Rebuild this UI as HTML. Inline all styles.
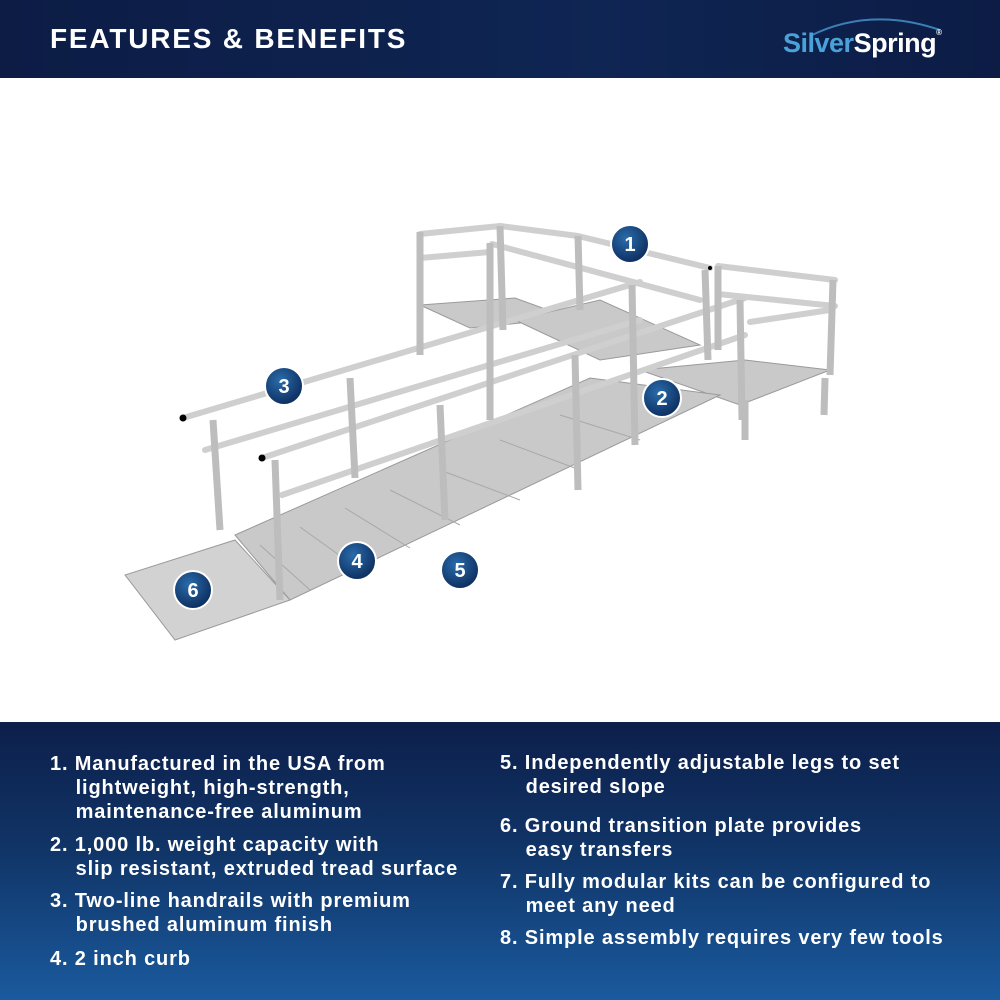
<!DOCTYPE html>
<html><head><meta charset="utf-8"><style>
html,body{margin:0;padding:0;width:1000px;height:1000px;overflow:hidden;background:#fff;font-family:"Liberation Sans",sans-serif}
#hdr{position:absolute;left:0;top:0;width:1000px;height:78px;background:linear-gradient(90deg,#0c1c45,#0f2553 60%,#0c1c45)}
#hdr h1{position:absolute;left:50px;top:23px;margin:0;color:#fff;font-size:28px;font-weight:bold;letter-spacing:1.8px}
#logo{position:absolute;left:783px;top:28px;font-size:27px;font-weight:bold;letter-spacing:-0.5px}
#bot{position:absolute;left:0;top:722px;width:1000px;height:278px;background:linear-gradient(180deg,#0d1f4b 0%,#103466 45%,#1a5a9e 100%)}
.t{position:absolute;color:#fff;font-weight:bold;font-size:20px;letter-spacing:0.85px;line-height:24px;white-space:nowrap}
</style></head><body>
<div id="hdr"><h1>FEATURES &amp; BENEFITS</h1>
<svg style="position:absolute;left:800px;top:10px" width="150" height="30"><path d="M10 26 Q70 -4 140 20" stroke="#3c7fb6" stroke-width="2" fill="none"/></svg>
<div id="logo"><span style="color:#4aa3d8">Silver</span><span style="color:#fff">Spring</span><span style="color:#fff;font-size:8px;vertical-align:top">®</span></div></div>

<svg style="position:absolute;left:0;top:78px" width="1000" height="644" viewBox="0 78 1000 644">
<defs><radialGradient id="b" cx="40%" cy="35%" r="70%"><stop offset="0" stop-color="#2a6cab"/><stop offset="1" stop-color="#0b2a5a"/></radialGradient></defs>
<rect x="0" y="78" width="1000" height="644" fill="#fff"/>
<g fill="#c9c9c9" stroke="#9a9a9a" stroke-width="1">
<polygon points="420,305 515,298 570,318 470,328"/>
<polygon points="515,320 600,300 700,345 600,360"/>
<polygon points="640,370 745,360 830,370 740,405"/>
<polygon points="235,535 590,378 720,395 290,600"/>
<polygon points="125,575 235,540 290,600 175,640" fill="#d2d2d2"/>
</g>
<g stroke="#a8a8a8" stroke-width="1">
<line x1="260" y1="545" x2="310" y2="590"/><line x1="300" y1="527" x2="360" y2="570"/><line x1="345" y1="508" x2="410" y2="548"/><line x1="390" y1="490" x2="460" y2="525"/><line x1="440" y1="470" x2="520" y2="500"/><line x1="500" y1="440" x2="580" y2="470"/><line x1="560" y1="415" x2="640" y2="440"/>
</g>
<g stroke="#cfcfcf" stroke-width="6" stroke-linecap="round" fill="none">
<line x1="183" y1="418" x2="640" y2="282"/><line x1="205" y1="450" x2="640" y2="320"/>
<line x1="262" y1="458" x2="745" y2="298"/><line x1="282" y1="495" x2="745" y2="335"/>
<line x1="420" y1="234" x2="500" y2="226"/><line x1="500" y1="226" x2="578" y2="236"/><line x1="578" y1="236" x2="710" y2="268"/>
<line x1="492" y1="244" x2="700" y2="300"/><line x1="420" y1="258" x2="490" y2="252"/>
<line x1="718" y1="266" x2="835" y2="280"/><line x1="718" y1="294" x2="835" y2="306"/><line x1="750" y1="322" x2="830" y2="310"/>
</g>
<g stroke="#bdbdbd" stroke-width="7" fill="none">
<line x1="213" y1="420" x2="220" y2="530"/><line x1="350" y1="378" x2="355" y2="478"/><line x1="440" y1="405" x2="445" y2="520"/>
<line x1="275" y1="460" x2="280" y2="600"/><line x1="490" y1="243" x2="490" y2="420"/><line x1="575" y1="355" x2="578" y2="490"/>
<line x1="420" y1="232" x2="420" y2="355"/><line x1="500" y1="226" x2="503" y2="330"/><line x1="578" y1="236" x2="580" y2="310"/>
<line x1="632" y1="285" x2="635" y2="445"/><line x1="705" y1="270" x2="708" y2="360"/><line x1="740" y1="300" x2="742" y2="420"/>
<line x1="718" y1="266" x2="718" y2="350"/><line x1="833" y1="280" x2="830" y2="375"/><line x1="745" y1="400" x2="745" y2="440"/><line x1="825" y1="378" x2="824" y2="415"/>
</g>
<g fill="#000"><circle cx="183" cy="418" r="3.5"/><circle cx="262" cy="458" r="3.5"/><circle cx="710" cy="268" r="2"/></g>
<g stroke="#fff" stroke-width="2" fill="url(#b)">
<circle cx="630" cy="244" r="19"/><circle cx="662" cy="398" r="19"/><circle cx="284" cy="386" r="19"/><circle cx="357" cy="561" r="19"/><circle cx="460" cy="570" r="19"/><circle cx="193" cy="590" r="19"/>
</g>
<g fill="#fff" font-family="Liberation Sans,sans-serif" font-weight="bold" font-size="20" text-anchor="middle">
<text x="630" y="251">1</text><text x="662" y="405">2</text><text x="284" y="393">3</text><text x="357" y="568">4</text><text x="460" y="577">5</text><text x="193" y="597">6</text>
</g>
</svg>

<div id="bot">
<div class="t" style="left:50px;top:30px">1. Manufactured in the USA from<br>&nbsp;&nbsp;&nbsp;&nbsp;lightweight, high-strength,<br>&nbsp;&nbsp;&nbsp;&nbsp;maintenance-free aluminum</div>
<div class="t" style="left:50px;top:111px">2. 1,000 lb. weight capacity with<br>&nbsp;&nbsp;&nbsp;&nbsp;slip resistant, extruded tread surface</div>
<div class="t" style="left:50px;top:167px">3. Two-line handrails with premium<br>&nbsp;&nbsp;&nbsp;&nbsp;brushed aluminum finish</div>
<div class="t" style="left:50px;top:225px">4. 2 inch curb</div>
<div class="t" style="left:500px;top:29px">5. Independently adjustable legs to set<br>&nbsp;&nbsp;&nbsp;&nbsp;desired slope</div>
<div class="t" style="left:500px;top:92px">6. Ground transition plate provides<br>&nbsp;&nbsp;&nbsp;&nbsp;easy transfers</div>
<div class="t" style="left:500px;top:148px">7. Fully modular kits can be configured to<br>&nbsp;&nbsp;&nbsp;&nbsp;meet any need</div>
<div class="t" style="left:500px;top:204px">8. Simple assembly requires very few tools</div>
</div>
</body></html>
